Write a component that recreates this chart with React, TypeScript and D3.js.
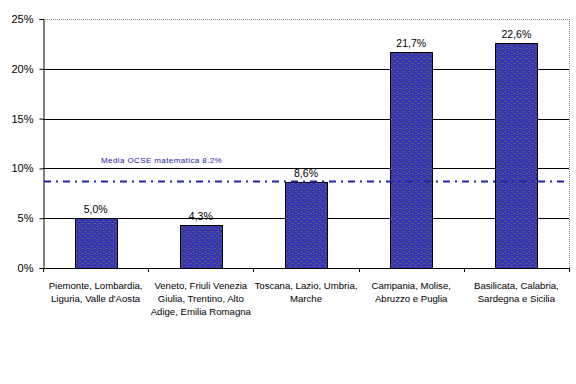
import React, { useEffect, useRef } from 'react';
import * as d3 from 'd3';

// categories (each label split into lines as in the picture)
const regions = [
  ['Piemonte, Lombardia,', "Liguria, Valle d'Aosta"],
  ['Veneto, Friuli Venezia', 'Giulia, Trentino, Alto', 'Adige, Emilia Romagna'],
  ['Toscana, Lazio, Umbria,', 'Marche'],
  ['Campania, Molise,', 'Abruzzo e Puglia'],
  ['Basilicata, Calabria,', 'Sardegna e Sicilia'],
];
const values = [5.0, 4.3, 8.6, 21.7, 22.6];
const valueLabels = ['5,0%', '4,3%', '8,6%', '21,7%', '22,6%'];
const yTicks = [0, 5, 10, 15, 20, 25];
const refValue = 8.7;
const refLabel = 'Media OCSE matematica 8.2%';

const W = 576;
const H = 384;

const App = () => {
  const ref = useRef<SVGSVGElement>(null);

  useEffect(() => {
    const svg = d3.select(ref.current);
    svg.selectAll('*').remove();

    const left = 43, right = 569, top = 19, bottom = 268;
    const font = 'Liberation Sans, Arial, sans-serif';

    const x = d3.scaleBand<number>()
      .domain(d3.range(values.length))
      .range([left, right])
      .paddingInner(0)
      .paddingOuter(0);
    const y = d3.scaleLinear().domain([0, 25]).range([bottom, top]);

    // bar texture
    const defs = svg.append('defs');
    const pat = defs.append('pattern')
      .attr('id', 'tex')
      .attr('patternUnits', 'userSpaceOnUse')
      .attr('width', 6)
      .attr('height', 5);
    pat.append('rect').attr('width', 6).attr('height', 5).attr('fill', '#3434b0');
    pat.append('rect').attr('x', 0).attr('y', 1).attr('width', 3).attr('height', 1).attr('fill', '#50508a');
    pat.append('rect').attr('x', 3).attr('y', 3).attr('width', 3).attr('height', 1).attr('fill', '#565688');
    pat.append('rect').attr('x', 1).attr('y', 4).attr('width', 1).attr('height', 1).attr('fill', '#5c5c94');
    pat.append('rect').attr('x', 4).attr('y', 0).attr('width', 1).attr('height', 1).attr('fill', '#4a4a9c');
    pat.append('rect').attr('x', 2).attr('y', 2).attr('width', 1).attr('height', 1).attr('fill', '#4040c8');

    // plot border (top / right dotted gray)
    svg.append('line')
      .attr('x1', left).attr('x2', right).attr('y1', top + 0.5).attr('y2', top + 0.5)
      .attr('stroke', '#8a8a70').attr('stroke-dasharray', '1,1');
    svg.append('line')
      .attr('x1', right + 0.5).attr('x2', right + 0.5).attr('y1', top).attr('y2', bottom)
      .attr('stroke', '#8a8a70').attr('stroke-dasharray', '1,1');

    // gridlines
    svg.append('g')
      .selectAll('line')
      .data(yTicks.filter(t => t > 0 && t < 25))
      .join('line')
      .attr('x1', left).attr('x2', right)
      .attr('y1', d => Math.round(y(d)) + 0.5)
      .attr('y2', d => Math.round(y(d)) + 0.5)
      .attr('stroke', '#000');

    // y axis
    const yAxis = svg.append('g')
      .attr('transform', `translate(${left + 0.5},0)`)
      .call(d3.axisLeft(y).tickValues(yTicks).tickSize(4).tickFormat(d => `${d}%`));
    yAxis.select('.domain').attr('stroke', '#000');
    yAxis.selectAll('text')
      .attr('font-family', font).attr('font-size', 11).attr('fill', '#000').attr('x', -10);

    // bars
    const bw = x.bandwidth() * 0.4;
    svg.append('g')
      .selectAll('rect')
      .data(values)
      .join('rect')
      .attr('x', (d, i) => Math.round(x(i)! + (x.bandwidth() - bw) / 2) + 0.5)
      .attr('y', d => Math.round(y(d)) + 0.5)
      .attr('width', Math.round(bw))
      .attr('height', d => Math.round(y(0)) - Math.round(y(d)))
      .attr('fill', 'url(#tex)')
      .attr('stroke', '#000')
      .attr('stroke-width', 1);

    // value labels
    svg.append('g')
      .selectAll('text')
      .data(values)
      .join('text')
      .attr('x', (d, i) => x(i)! + x.bandwidth() / 2)
      .attr('y', d => y(d) - 5)
      .attr('text-anchor', 'middle')
      .attr('font-family', font)
      .attr('font-size', 10.5)
      .text((d, i) => valueLabels[i]);

    // x axis
    svg.append('line')
      .attr('x1', left).attr('x2', right + 1)
      .attr('y1', bottom + 0.5).attr('y2', bottom + 0.5)
      .attr('stroke', '#000');
    svg.append('g')
      .selectAll('line')
      .data(d3.range(values.length + 1))
      .join('line')
      .attr('x1', i => Math.round(i < values.length ? x(i)! : right) + 0.5)
      .attr('x2', i => Math.round(i < values.length ? x(i)! : right) + 0.5)
      .attr('y1', bottom)
      .attr('y2', bottom + 4)
      .attr('stroke', '#000');

    // category labels
    const cats = svg.append('g')
      .selectAll('text')
      .data(regions)
      .join('text')
      .attr('x', (d, i) => x(i)! + x.bandwidth() / 2)
      .attr('y', 289)
      .attr('text-anchor', 'middle')
      .attr('font-family', font)
      .attr('font-size', 9.6)
      .attr('fill', '#000');
    cats.selectAll('tspan')
      .data(d => d)
      .join('tspan')
      .attr('x', function () {
        return (this.parentNode as SVGTextElement).getAttribute('x');
      })
      .attr('dy', (d, i) => (i === 0 ? 0 : 13))
      .text(d => d);

    // reference line
    svg.append('line')
      .attr('x1', left + 1).attr('x2', right - 3)
      .attr('y1', Math.round(y(refValue)) + 0.5)
      .attr('y2', Math.round(y(refValue)) + 0.5)
      .attr('stroke', '#2424aa')
      .attr('stroke-width', 2)
      .attr('stroke-dasharray', '7,5,2,5');
    svg.append('text')
      .attr('x', 101)
      .attr('y', 163)
      .attr('font-family', font)
      .attr('font-size', 8)
      .attr('letter-spacing', 0.4)
      .attr('fill', '#2424aa')
      .text(refLabel);
  }, []);

  return (
    <svg
      ref={ref}
      width={W}
      height={H}
      style={{ position: 'absolute', left: 0, top: 0, background: '#fff' }}
    />
  );
};

export default App;
